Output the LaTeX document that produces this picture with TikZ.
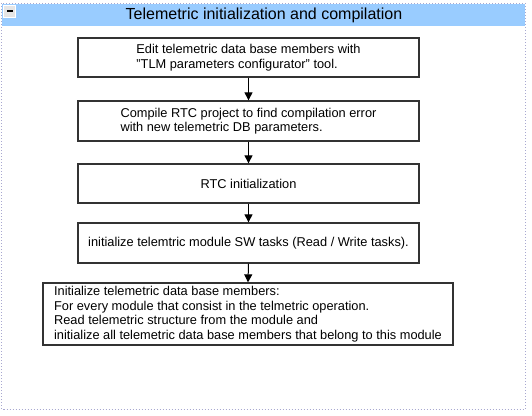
\documentclass[tikz,border=0pt]{standalone}
\usepackage{fontspec}
\setmainfont{Liberation Sans}
\usetikzlibrary{arrows.meta}
\definecolor{band}{HTML}{99CCFF}
\definecolor{frame}{HTML}{A8A8D0}
\definecolor{boxline}{HTML}{333333}
\tikzset{
  stepbox/.style={draw=boxline, line width=1.3pt, rectangle, align=left, inner sep=0pt,
    font=\fontsize{12.8}{14.6}\selectfont},
  flow/.style={draw=black, line width=1pt, -{Triangle[width=8pt,length=8pt]}}
}
\begin{document}
\begin{tikzpicture}[x=1pt,y=-1pt]
\useasboundingbox (0,0) rectangle (532,415);
% outer dotted frame
\draw[frame, line width=1pt, dotted] (1.5,3) rectangle (525,409);
% header band
\fill[band] (2,3.5) rectangle (524.5,26);
\node[font=\fontsize{16}{18}\selectfont] (title) at (264,15) {Telemetric initialization and compilation};
% collapse icon
\draw[white, fill=black!10, line width=1pt] (3.5,5.5) rectangle (15.5,17);
\fill[black] (6.5,10.3) rectangle (12.5,12.3);
% boxes
\node[stepbox, minimum width=341pt, minimum height=39pt] (b1) at (248.5,57.5)
  {Edit telemetric data base members with\\\symbol{34}TLM parameters configurator\symbol{34} tool.};
\node[stepbox, minimum width=341pt, minimum height=40pt] (b2) at (248.5,121)
  {Compile RTC project to find compilation error\\with new telemetric DB parameters.};
\node[stepbox, minimum width=341pt, minimum height=39pt] (b3) at (248.5,183.5)
  {RTC initialization};
\node[stepbox, minimum width=341pt, minimum height=40pt] (b4) at (248.5,243)
  {initialize telemtric module SW tasks (Read / Write tasks).};
\node[stepbox, minimum width=410pt, minimum height=62pt] (b5) at (248,314)
  {Initialize telemetric data base members:\\For every module that consist in the telmetric operation.\\Read telemetric structure from the module and\\initialize all telemetric data base members that belong to this module};
% connectors
\draw[flow] (b1.south) -- (b2.north);
\draw[flow] (b2.south) -- (b3.north);
\draw[flow] (b3.south) -- (b4.north);
\draw[flow] (b4.south) -- (b5.north);
\end{tikzpicture}
\end{document}
